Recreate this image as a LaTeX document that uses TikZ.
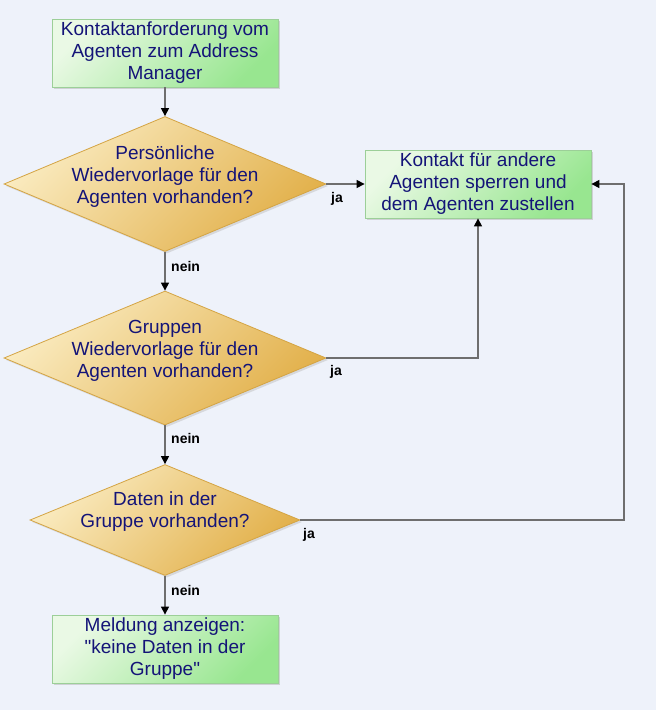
\documentclass[tikz,border=0pt]{standalone}
\usepackage{fontspec}
\setmainfont{Liberation Sans}
\usepackage{tikz}
\usetikzlibrary{arrows.meta, shapes.geometric, shadows, calc}

\definecolor{bgblue}{HTML}{EEF2FA}
\definecolor{txtblue}{HTML}{141478}
\definecolor{boxlight}{HTML}{EAF9E5}
\definecolor{boxdark}{HTML}{98E690}
\definecolor{boxline}{HTML}{9CCF98}
\definecolor{goldlight}{HTML}{FAEBC0}
\definecolor{golddark}{HTML}{E2B04A}
\definecolor{goldline}{HTML}{D4A443}
\definecolor{flowgray}{HTML}{6E6E6E}

\begin{document}
\begin{tikzpicture}[x=1pt, y=-1pt,
    box/.style={rectangle, draw=boxline, line width=0.8pt, top color=boxlight, bottom color=boxdark,
        shading angle=45, minimum width=226pt, minimum height=68pt, inner sep=0pt,
        align=center, text=txtblue, font=\fontsize{19}{22}\selectfont,
        drop shadow={shadow xshift=2pt, shadow yshift=-2pt, fill=black!30}},
    decision/.style={diamond, draw=goldline, line width=0.8pt, top color=goldlight, bottom color=golddark,
        shading angle=45, inner sep=0pt,
        drop shadow={shadow xshift=2pt, shadow yshift=-2pt, fill=black!25}},
    dtext/.style={align=center, text=txtblue, font=\fontsize{19}{22}\selectfont, inner sep=0pt},
    answer/.style={anchor=west, font=\fontsize{14}{16}\selectfont\bfseries, inner sep=0pt},
    flow/.style={draw=flowgray, line width=1.2pt, -{Triangle[color=black, width=8pt, length=8pt]}}]

    % Hintergrund
    \fill[bgblue] (0,0) rectangle (656,710);
    \useasboundingbox (0,0) rectangle (656,710);

    % Kaesten
    \node[box] (anfrage) at (165,53) {Kontaktanforderung vom\\Agenten zum Address\\Manager};
    \node[box] (zustellen) at (478,184) {Kontakt für andere\\Agenten sperren und\\dem Agenten zustellen};
    \node[box] (meldung) at (165,649) {Meldung anzeigen:\\\textquotedbl keine Daten in der\\Gruppe\textquotedbl};

    % Entscheidungen
    \node[decision, minimum width=322pt, minimum height=135pt] (persoenlich) at (165,184) {};
    \node[dtext] (persoenlichtext) at (165,177) {Persönliche\\Wiedervorlage für den\\Agenten vorhanden?};

    \node[decision, minimum width=322pt, minimum height=134pt] (gruppe) at (165,358) {};
    \node[dtext] (gruppetext) at (165,351) {Gruppen\\Wiedervorlage für den\\Agenten vorhanden?};

    \node[decision, minimum width=270pt, minimum height=111pt] (daten) at (165,520) {};
    \node[dtext] (datentext) at (165,512) {Daten in der\\Gruppe vorhanden?};

    % Verbindungen
    \coordinate (rechts) at (624,184);
    \draw[flow] (anfrage) -- (persoenlich.north);
    \draw[flow] (persoenlich.east) -- (zustellen.west);
    \draw[flow] (persoenlich.south) -- (gruppe.north);
    \draw[flow] (gruppe.east) -| (zustellen.south);
    \draw[flow] (gruppe.south) -- (daten.north);
    \draw[flow] (daten.east) -| (rechts) -- (zustellen.east);
    \draw[flow] (daten.south) -- (meldung.north);

    % Beschriftungen
    \node[answer] (ja1) at (331,199) {ja};
    \node[answer] (nein1) at (171,266) {nein};
    \node[answer] (ja2) at (330,372) {ja};
    \node[answer] (nein2) at (171,438) {nein};
    \node[answer] (ja3) at (303,535) {ja};
    \node[answer] (nein3) at (171,590) {nein};
\end{tikzpicture}
\end{document}
